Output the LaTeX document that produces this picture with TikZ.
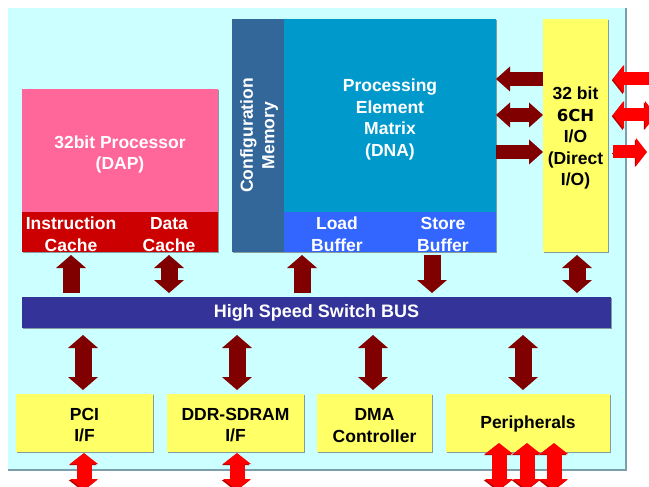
\documentclass[tikz,border=0pt]{standalone}
\usepackage{fontspec}
\setmainfont{Liberation Sans}
\newfontfamily\heavyfont{DejaVu Sans}
\usetikzlibrary{arrows.meta,shadows}

\definecolor{panelfill}{HTML}{CCFFFF}
\definecolor{paneledge}{HTML}{7A9FAA}
\definecolor{procpink}{HTML}{FF6699}
\definecolor{cachered}{HTML}{CC0000}
\definecolor{cfgblue}{HTML}{336699}
\definecolor{pemblue}{HTML}{0099CC}
\definecolor{bufblue}{HTML}{3366FF}
\definecolor{ioyellow}{HTML}{FFFF66}
\definecolor{busblue}{HTML}{333399}
\definecolor{linkred}{HTML}{800000}
\definecolor{extred}{HTML}{FF0000}
\definecolor{extedge}{HTML}{B80000}

\tikzset{
  Vt/.tip={Triangle[length=13pt,width=30pt,line width=0pt]},
  Ht/.tip={Triangle[length=14pt,width=25pt,line width=0pt]},
  Et/.tip={Triangle[length=11pt,width=28pt,line width=0pt]},
}

\begin{document}
\begin{tikzpicture}[x=1pt,y=-1pt,
  blk/.style={rectangle, inner sep=0pt, outer sep=0pt, anchor=north west,
    align=center, font=\bfseries\fontsize{17.5}{21.5}\selectfont,
    drop shadow={shadow xshift=1.4pt, shadow yshift=-1.4pt, opacity=0.55, fill=black!70}},
  twoline/.style={text height=38.2pt},
  wtxt/.style={text=white},
  btxt/.style={text=black},
  vlink/.style={draw=linkred, line width=17pt},
  hlink/.style={draw=linkred, line width=14pt},
  bevel/.style={preaction={draw=extedge, transform canvas={xshift=-1.2pt, yshift=-1.2pt}}},
  vext/.style={draw=extred, line width=15pt, bevel},
  hext/.style={draw=extred, line width=13pt, bevel},
]
\clip (0,0) rectangle (649,487);
\fill[white] (0,0) rectangle (649,487);

% chip outline
\fill[panelfill] (8,8) rectangle (626,470);
\draw[paneledge, line width=1.2pt] (626,8) -- (626,470) -- (8,470);

% processor and its caches
\node[blk, wtxt, fill=procpink, minimum width=196pt, minimum height=123pt, text height=42.2pt] (dap) at (22,89) {32bit Processor\\(DAP)};
\node[blk, twoline, wtxt, fill=cachered, minimum width=98pt, minimum height=40pt] (ic) at (22,212) {Instruction\\Cache};
\node[blk, twoline, wtxt, fill=cachered, minimum width=98pt, minimum height=40pt] (dc) at (120,212) {Data\\Cache};

% reconfigurable array
\node[blk, fill=cfgblue, minimum width=52pt, minimum height=233pt] (cfg) at (232,19) {};
\node[rotate=90, align=center, text=white, font=\bfseries\fontsize{17.5}{21.5}\selectfont] (cfgtxt) at ([xshift=1pt]cfg.center) {Configuration\\Memory};
\node[blk, wtxt, fill=pemblue, minimum width=212pt, minimum height=193pt, text height=85.2pt] (pem) at (284,19) {Processing\\Element\\Matrix\\(DNA)};
\node[blk, twoline, wtxt, fill=bufblue, minimum width=106pt, minimum height=40pt] (lb) at (284,212) {Load\\Buffer};
\node[blk, twoline, wtxt, fill=bufblue, minimum width=106pt, minimum height=40pt] (sb) at (390,212) {Store\\Buffer};

% direct I/O
\node[blk, btxt, fill=ioyellow, minimum width=65pt, minimum height=233pt, text height=103.7pt] (io) at (543,19) {32 bit\\{\heavyfont\bfseries\fontsize{16.5}{21.5}\selectfont 6CH}\\I/O\\(Direct\\I/O)};

% bus
\node[blk, wtxt, fill=busblue, minimum width=589pt, minimum height=31pt, font=\bfseries\fontsize{18}{21.5}\selectfont] (bus) at (22,297) {High Speed Switch BUS};

% peripheral blocks
\node[blk, twoline, btxt, fill=ioyellow, minimum width=137pt, minimum height=58pt] (pci) at (16,394) {PCI\\I/F};
\node[blk, twoline, btxt, fill=ioyellow, minimum width=137pt, minimum height=58pt] (ddr) at (167,394) {DDR-SDRAM\\I/F};
\node[blk, twoline, btxt, fill=ioyellow, minimum width=115pt, minimum height=58pt] (dma) at (317,394) {DMA\\Controller};
\node[blk, btxt, fill=ioyellow, minimum width=164pt, minimum height=58pt, text height=14pt] (per) at (446,394) {Peripherals};

% links between the array and the direct I/O
\draw[hlink, -Ht] (io.west |- 0,79) -- (pem.east |- 0,79);
\draw[hlink, Ht-Ht] (pem.east |- 0,115) -- (io.west |- 0,115);
\draw[hlink, -Ht] (pem.east |- 0,152) -- (io.west |- 0,152);

% links onto the bus
\draw[vlink, -Vt, shorten <=4pt, shorten >=3pt] (bus.north -| ic.south) -- (ic.south);
\draw[vlink, Vt-Vt, shorten <=4pt, shorten >=3pt] (bus.north -| dc.south) -- (dc.south);
\draw[vlink, -Vt, shorten <=4pt, shorten >=3pt] (bus.north -| 302,0) -- (lb.south -| 302,0);
\draw[vlink, -Vt, shorten <=3pt, shorten >=4pt] (sb.south -| 432,0) -- (bus.north -| 432,0);
\draw[vlink, Vt-Vt, shorten <=4pt, shorten >=3pt] (bus.north -| 577,0) -- (io.south -| 577,0);

% links from the bus to the peripheral blocks
\draw[vlink, Vt-Vt, shorten <=7pt, shorten >=4pt] (bus.south -| 83,0) -- (pci.north -| 83,0);
\draw[vlink, Vt-Vt, shorten <=7pt, shorten >=4pt] (bus.south -| 237,0) -- (ddr.north -| 237,0);
\draw[vlink, Vt-Vt, shorten <=7pt, shorten >=4pt] (bus.south -| 373,0) -- (dma.north -| 373,0);
\draw[vlink, Vt-Vt, shorten <=7pt, shorten >=4pt] (bus.south -| 523,0) -- (per.north -| 523,0);

% external pins
\coordinate (xr1) at (668,79);
\coordinate (xr2) at (656,115);
\coordinate (xr3) at (647,152);
\draw[hext, -Et, shorten >=5pt] (xr1) -- (io.east |- xr1);
\draw[hext, Et-Et, shorten <=5pt] (io.east |- xr2) -- (xr2);
\draw[hext, -Et, shorten <=5pt] (io.east |- xr3) -- (xr3);

\coordinate (xb1) at (84,490);
\coordinate (xb2) at (237,490);
\coordinate (xb3) at (499,490);
\coordinate (xb4) at (527,490);
\coordinate (xb5) at (554,490);
\draw[vext, Et-Et, shorten <=1pt] (pci.south -| xb1) -- (xb1);
\draw[vext, Et-Et, shorten <=1pt] (ddr.south -| xb2) -- (xb2);
\draw[vext, Et-Et, shorten <=-9pt] (per.south -| xb3) -- (xb3);
\draw[vext, Et-Et, shorten <=-9pt] (per.south -| xb4) -- (xb4);
\draw[vext, Et-Et, shorten <=-9pt] (per.south -| xb5) -- (xb5);
\end{tikzpicture}
\end{document}
